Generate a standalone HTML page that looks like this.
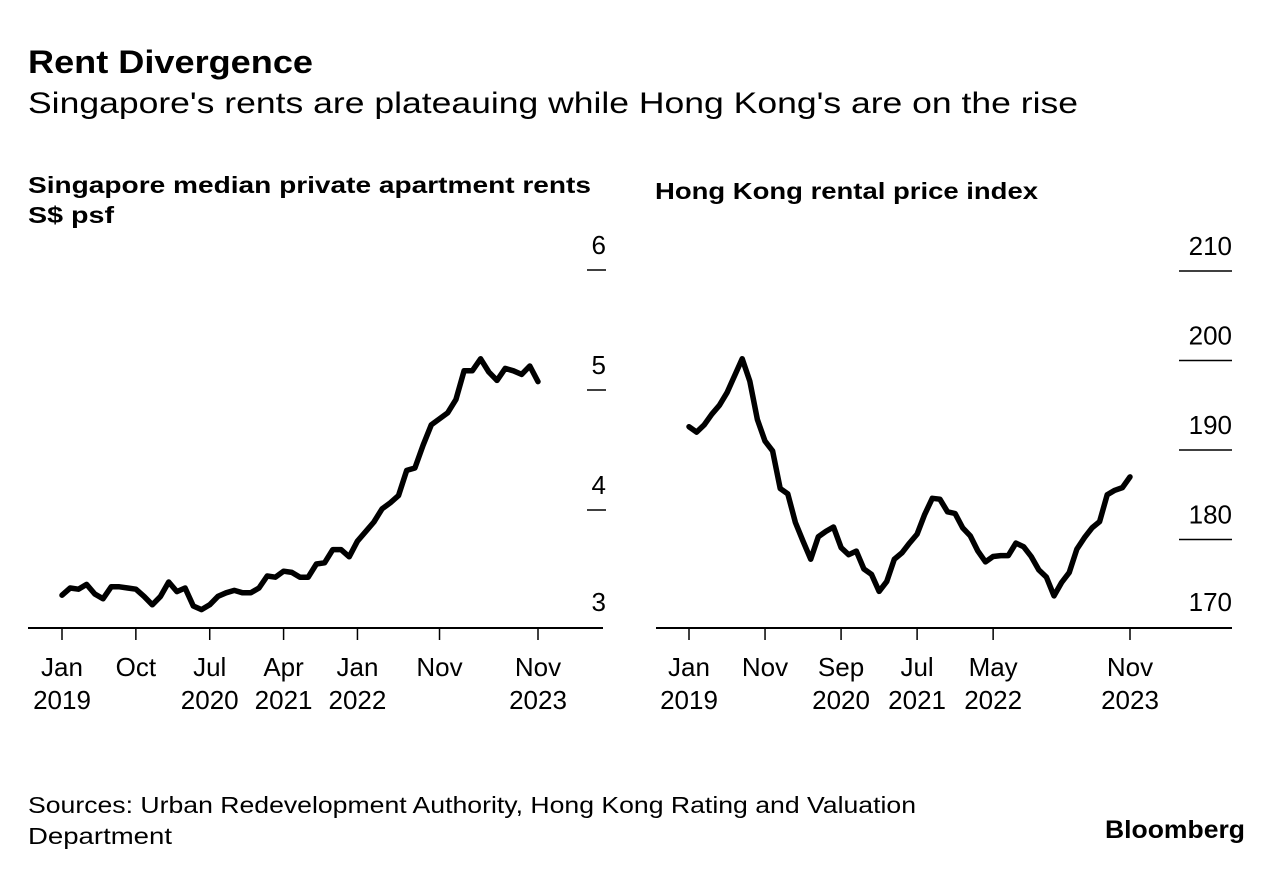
<!DOCTYPE html>
<html><head><meta charset="utf-8"><style>
html,body{margin:0;padding:0;background:#fff;}
svg{display:block;font-family:"Liberation Sans",Arial,sans-serif;}
</style></head><body>
<svg id="chart" width="1284" height="874" viewBox="0 0 1284 874">
<text x="28" y="73" font-size="32" font-weight="bold" fill="#000" textLength="285" lengthAdjust="spacingAndGlyphs">Rent Divergence</text>
<text x="28" y="113" font-size="30" fill="#000" textLength="1050" lengthAdjust="spacingAndGlyphs">Singapore's rents are plateauing while Hong Kong's are on the rise</text>
<text x="28" y="193" font-size="23" font-weight="bold" fill="#000" textLength="563" lengthAdjust="spacingAndGlyphs">Singapore median private apartment rents</text>
<text x="28" y="223" font-size="23" font-weight="bold" fill="#000" textLength="86" lengthAdjust="spacingAndGlyphs">S$ psf</text>
<text x="655" y="199" font-size="23" font-weight="bold" fill="#000" textLength="383" lengthAdjust="spacingAndGlyphs">Hong Kong rental price index</text>
<g id="sg"></g>
<g id="hk"></g>
<text x="28" y="813" font-size="23" fill="#000" textLength="888" lengthAdjust="spacingAndGlyphs">Sources: Urban Redevelopment Authority, Hong Kong Rating and Valuation</text>
<text x="28" y="844" font-size="23" fill="#000" textLength="144" lengthAdjust="spacingAndGlyphs">Department</text>
<text x="1105" y="838" font-size="25" font-weight="bold" fill="#000" textLength="140" lengthAdjust="spacingAndGlyphs">Bloomberg</text>
</svg>
<script>
const sgValues = [3.29,3.35,3.34,3.38,3.30,3.26,3.36,3.36,3.35,3.34,3.28,3.21,3.28,3.40,3.32,3.35,3.20,3.17,3.21,3.28,3.31,3.33,3.31,3.31,3.35,3.45,3.44,3.49,3.48,3.44,3.44,3.55,3.56,3.67,3.67,3.61,3.74,3.82,3.90,4.01,4.06,4.12,4.33,4.35,4.54,4.71,4.76,4.81,4.92,5.16,5.16,5.26,5.15,5.08,5.18,5.16,5.13,5.20,5.07];
const hkValues = [192.6,192.0,192.8,194.0,195.0,196.4,198.3,200.2,197.7,193.4,191.0,189.9,185.7,185.1,181.9,179.8,177.8,180.3,180.9,181.4,179.1,178.3,178.7,176.7,176.1,174.2,175.3,177.8,178.5,179.6,180.6,182.8,184.6,184.5,183.1,182.9,181.3,180.4,178.7,177.5,178.1,178.2,178.2,179.6,179.2,178.1,176.6,175.8,173.7,175.2,176.3,178.9,180.2,181.3,182.0,185.0,185.5,185.8,187.0];
const sgTickMonths = [0,9,18,27,36,46,58];
const sgTickLabels = [["Jan","2019"],["Oct",""],["Jul","2020"],["Apr","2021"],["Jan","2022"],["Nov",""],["Nov","2023"]];
const hkTickMonths = [0,10,20,30,40,58];
const hkTickLabels = [["Jan","2019"],["Nov",""],["Sep","2020"],["Jul","2021"],["May","2022"],["Nov","2023"]];
const sgYTicks = [3,4,5,6];
const hkYTicks = [170,180,190,200,210];

const NS="http://www.w3.org/2000/svg";
function mk(parent,tag,attrs){const e=document.createElementNS(NS,tag);for(const k in attrs)e.setAttribute(k,attrs[k]);parent.appendChild(e);return e;}

function panel(g,cfg){
  const x=m=>cfg.x0+(cfg.x1-cfg.x0)*m/58;
  const y=v=>cfg.y0+(v-cfg.vmin)*(cfg.yTop-cfg.y0)/(cfg.vmax-cfg.vmin);
  const axis=mk(g,"line",{x1:cfg.ax0,x2:cfg.ax1,y1:628,y2:628,stroke:"#000","stroke-width":2});
  
  
  cfg.yt.forEach(v=>{
    const yy=y(v);
    if(v!==cfg.vmin){
      const l=mk(g,"line",{x1:cfg.gx0,x2:cfg.gx1,y1:yy,y2:yy,stroke:"#000","stroke-width":1.5});
      
      
    }
    const t=mk(g,"text",{x:cfg.gx1,y:(v===cfg.vmin?611:yy-16),"font-size":26,"text-anchor":"end",fill:"#000"});
    t.textContent=String(v);
    
    
  });
  cfg.tm.forEach((m,i)=>{
    const xx=x(m);
    const tk=mk(g,"line",{x1:xx,x2:xx,y1:628,y2:640,stroke:"#000","stroke-width":1.5});
    
    
    const t1=mk(g,"text",{x:xx,y:676,"font-size":26,"text-anchor":"middle",fill:"#000"});
    t1.textContent=cfg.tl[i][0];
    
    
    if(cfg.tl[i][1]){
      const t2=mk(g,"text",{x:xx,y:709,"font-size":26,"text-anchor":"middle",fill:"#000"});
      t2.textContent=cfg.tl[i][1];
      
      
    }
  });
  const d=cfg.vals.map((v,i)=>(i?"L":"M")+x(i).toFixed(1)+" "+y(v).toFixed(1)).join(" ");
  const p=mk(g,"path",{d:d,fill:"none",stroke:"#000","stroke-width":5.5,"stroke-linejoin":"round","stroke-linecap":"round"});
  
  
}
panel(document.getElementById("sg"),{x0:62,x1:538,ax0:28,ax1:603,gx0:587,gx1:606,vmin:3,vmax:6,y0:630,yTop:270,vals:sgValues,yt:sgYTicks,tm:sgTickMonths,tl:sgTickLabels,name:"sg-rent-line"});
panel(document.getElementById("hk"),{x0:689,x1:1130,ax0:656,ax1:1232,gx0:1179,gx1:1232,vmin:170,vmax:210,y0:629,yTop:271,vals:hkValues,yt:hkYTicks,tm:hkTickMonths,tl:hkTickLabels,name:"hk-index-line"});
</script>
</body></html>
